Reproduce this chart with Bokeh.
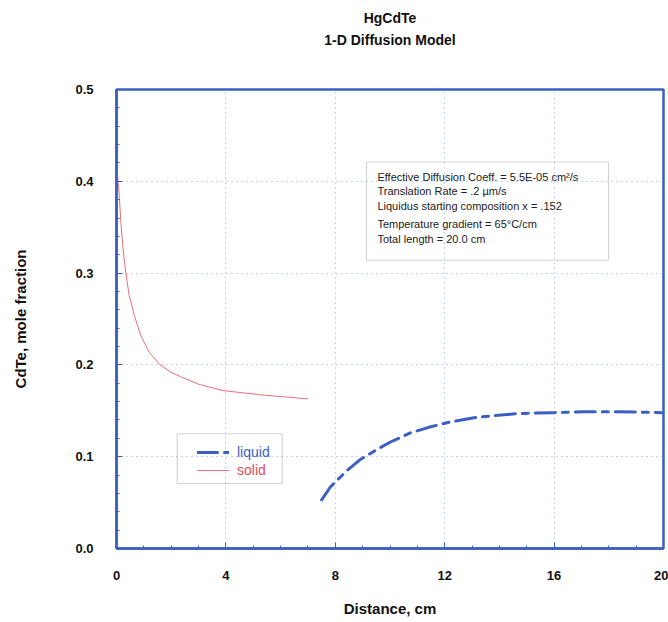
from bokeh.plotting import figure
from bokeh.models import (Range1d, FixedTicker, Title, Label, BoxAnnotation,
                          Legend, LegendItem)
from bokeh.embed import file_html
from bokeh.resources import INLINE

# ---- data ----
solid_x = [0.02, 0.04, 0.1, 0.16, 0.24, 0.34, 0.46, 0.65, 0.89, 1.19, 1.56, 1.99,
           2.35, 3.0, 3.9, 5.4, 7.0]
solid_y = [0.418, 0.406, 0.385, 0.355, 0.326, 0.301, 0.276, 0.254, 0.232, 0.214,
           0.201, 0.192, 0.187, 0.179, 0.172, 0.167, 0.163]

liquid_x = [7.5, 7.82, 8.43, 8.92, 9.53, 10.02, 10.75, 11.42, 12.21, 13.19, 14.65,
            15.99, 17.08, 18.24, 19.95]
liquid_y = [0.053, 0.067, 0.085, 0.097, 0.108, 0.116, 0.126, 0.132, 0.138, 0.143,
            0.147, 0.148, 0.149, 0.149, 0.148]

x_ticks = [0, 4, 8, 12, 16, 20]
x_minor = [v for v in range(0, 21)]
y_ticks = [0.0, 0.1, 0.2, 0.3, 0.4, 0.5]
y_minor = [round(i * 0.02, 2) for i in range(0, 26)]
y_tick_labels = ["0.0", "0.1", "0.2", "0.3", "0.4", "0.5"]

title_lines = ["HgCdTe", "1-D Diffusion Model"]
info_lines = [
    "Effective Diffusion Coeff. = 5.5E-05 cm\u00b2/s",
    "Translation Rate = .2 \u00b5m/s",
    "Liquidus starting composition x = .152",
    "Temperature gradient = 65\u00b0C/cm",
    "Total length = 20.0 cm",
]

BLUE = "#3b5fc4"
RED = "#e8707c"
FONT = "Liberation Sans"

p = figure(width=668, height=622, output_backend="svg", toolbar_location=None,
           x_range=Range1d(0, 20), y_range=Range1d(0, 0.5),
           min_border_left=116, min_border_right=5, min_border_top=89,
           min_border_bottom=74)
p.background_fill_color = "white"
p.border_fill_color = "white"
p.outline_line_color = BLUE
p.outline_line_width = 2.5

title_style = dict(align="center", text_font=FONT, text_font_size="14px",
                   text_font_style="bold", text_color="#111111")
p.title.text = title_lines[0]
p.title.align = "center"
p.title.text_font = FONT
p.title.text_font_size = "14px"
p.title.text_font_style = "bold"
p.title.text_color = "#111111"
p.title.standoff = 8
# spacer (closest to the frame), then the subtitle
p.add_layout(Title(text=" ", standoff=24, **title_style), "above")
p.add_layout(Title(text=title_lines[1], standoff=0, **title_style), "above")

for ax in (p.xaxis[0], p.yaxis[0]):
    ax.axis_line_color = BLUE
    ax.axis_line_width = 2.5
    ax.major_tick_line_color = BLUE
    ax.minor_tick_line_color = BLUE
    ax.major_tick_in = 6
    ax.major_tick_out = 0
    ax.minor_tick_in = 3
    ax.minor_tick_out = 0
    ax.major_label_text_font = FONT
    ax.major_label_text_font_size = "13px"
    ax.major_label_text_font_style = "bold"
    ax.major_label_text_color = "#111111"
    ax.axis_label_text_font = FONT
    ax.axis_label_text_font_size = "15px"
    ax.axis_label_text_font_style = "bold"
    ax.axis_label_text_color = "#111111"

p.xaxis.ticker = FixedTicker(ticks=x_ticks, minor_ticks=x_minor)
p.yaxis.ticker = FixedTicker(ticks=y_ticks, minor_ticks=y_minor)
p.yaxis.major_label_overrides = {v: s for v, s in zip(y_ticks, y_tick_labels)}
p.xaxis.major_label_standoff = 22
p.yaxis.major_label_standoff = 23
p.xaxis.axis_label = "Distance, cm"
p.yaxis.axis_label = "CdTe, mole fraction"
p.xaxis.axis_label_standoff = 17
p.yaxis.axis_label_standoff = 43

for g in (p.xgrid[0], p.ygrid[0]):
    g.grid_line_color = "#7d9de0"
    g.grid_line_dash = "1 4"
    g.grid_line_width = 1
    g.grid_line_alpha = 0.9
p.xgrid.ticker = FixedTicker(ticks=x_ticks)
p.ygrid.ticker = FixedTicker(ticks=y_ticks)

solid_r = p.line(solid_x, solid_y, line_color=RED, line_width=1, line_join="round")
liquid_r = p.line(liquid_x, liquid_y, line_color=BLUE, line_width=3,
                  line_dash="20 7 6 7", line_join="round", line_cap="round")

# info box
p.add_layout(BoxAnnotation(left=9.14, right=17.99, bottom=0.314, top=0.421,
                           fill_alpha=0, line_color="#707078", line_width=1.2))
info_y = [0.4052, 0.3889, 0.3736, 0.3539, 0.3376]
for txt, yy in zip(info_lines, info_y):
    p.add_layout(Label(x=9.54, y=yy, text=txt, text_baseline="middle",
                       text_font=FONT, text_font_size="11px", text_color="#222222"))

# legend box
p.add_layout(BoxAnnotation(left=2.22, right=6.06, bottom=0.0708, top=0.125,
                           fill_alpha=0, line_color="#707078", line_width=1.2))
for item, color, loc in ((LegendItem(label="liquid", renderers=[liquid_r]), BLUE, (81, 87)),
                         (LegendItem(label="solid", renderers=[solid_r]), "#e05060", (81, 69))):
    lg = Legend(items=[item], location=loc, padding=0, margin=0, spacing=0,
                glyph_width=32, glyph_height=18, label_height=18, label_standoff=8,
                label_text_font=FONT, label_text_font_size="14px",
                label_text_color=color, border_line_alpha=0,
                background_fill_alpha=0)
    p.add_layout(lg)

open("out.html", "w").write(file_html(p, INLINE))
